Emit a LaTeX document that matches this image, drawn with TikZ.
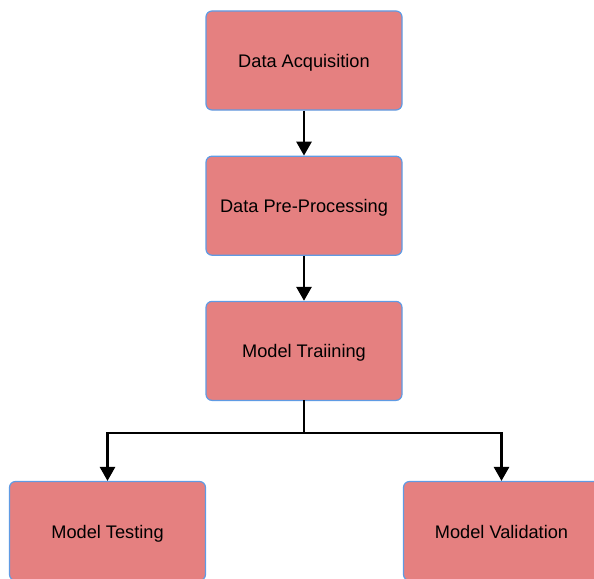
\documentclass[tikz,border=0pt]{standalone}
\usepackage{fontspec}
\setmainfont{Liberation Sans}
\usetikzlibrary{arrows.meta,positioning}
\definecolor{boxred}{RGB}{229,128,128}
\definecolor{boxblue}{RGB}{95,155,228}

\begin{document}
\begin{tikzpicture}[x=1pt,y=1pt,
    stage/.style={draw=boxblue, fill=boxred, line width=1.2pt, rounded corners=6pt,
      minimum width=196pt, minimum height=99pt, text height=16pt, text depth=2pt,
      font=\fontsize{18.2}{22}\selectfont},
    flow/.style={line width=2.8pt, -{Triangle[width=15pt,length=14pt]}}]
  % Page frame (bottom boxes run off the edge)
  \useasboundingbox (0,0) rectangle (594,-578);
  % Pipeline stages
  \node[stage] (acq) at (304,-60.5) {Data Acquisition};
  \node[stage, below=45pt of acq] (prep) {Data Pre-Processing};
  \node[stage, below=45pt of prep] (train) {Model Traiining};
  \node[stage] (test) at (107.5,-531) {Model Testing};
  \node[stage] (valid) at (501.5,-531) {Model Validation};
  % Connectors
  \draw[flow] (acq) -- (prep);
  \draw[flow] (prep) -- (train);
  \coordinate (split) at (304,-433);
  \draw[line width=2.8pt, line cap=rect] (train.south) -- (split);
  \draw[flow] (split) -| (test.north);
  \draw[flow] (split) -| (valid.north);
\end{tikzpicture}
\end{document}
